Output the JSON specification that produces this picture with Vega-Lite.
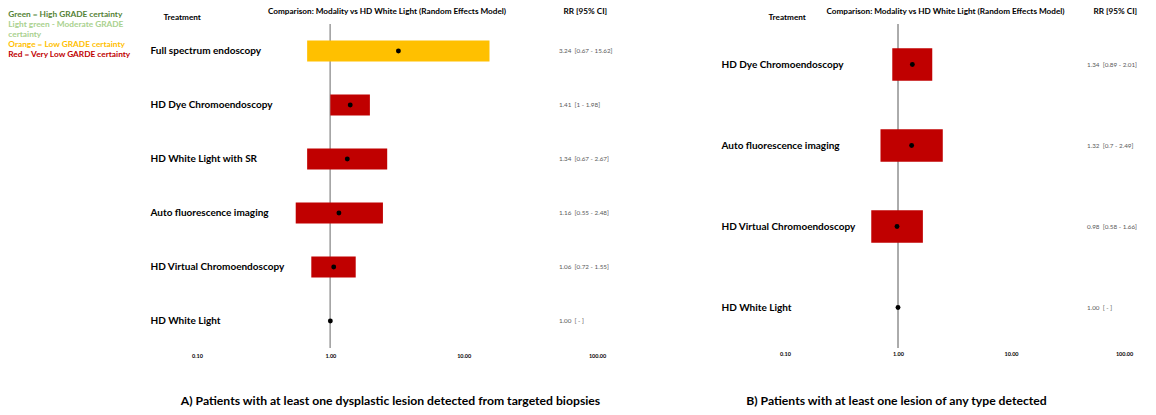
{
  "$schema": "https://vega.github.io/schema/vega-lite/v6.json",
  "background": "white",
  "padding": {"left": 9, "top": 6, "right": 5, "bottom": 5},
  "config": {
    "font": "Lato",
    "view": {"stroke": null},
    "axis": {"grid": false, "domain": false, "ticks": false, "tickSize": 0}
  },
  "bounds": "flush",
  "spacing": 188,
  "datasets": {
    "dysplastic": [
      {"treatment": "Full spectrum endoscopy", "rr": 3.24, "lo": 0.67, "hi": 15.62, "grade": "Orange = Low GRADE certainty", "label": "3.24\u00a0 [0.67 - 15.62]"},
      {"treatment": "HD Dye Chromoendoscopy", "rr": 1.41, "lo": 1.0, "hi": 1.98, "grade": "Red = Very Low GARDE certainty", "label": "1.41\u00a0 [1 - 1.98]"},
      {"treatment": "HD White Light with SR", "rr": 1.34, "lo": 0.67, "hi": 2.67, "grade": "Red = Very Low GARDE certainty", "label": "1.34\u00a0 [0.67 - 2.67]"},
      {"treatment": "Auto fluorescence imaging", "rr": 1.16, "lo": 0.55, "hi": 2.48, "grade": "Red = Very Low GARDE certainty", "label": "1.16\u00a0 [0.55 - 2.48]"},
      {"treatment": "HD Virtual Chromoendoscopy", "rr": 1.06, "lo": 0.72, "hi": 1.55, "grade": "Red = Very Low GARDE certainty", "label": "1.06\u00a0 [0.72 - 1.55]"},
      {"treatment": "HD White Light", "rr": 1.0, "lo": null, "hi": null, "grade": null, "label": "1.00\u00a0 [ - ]"}
    ],
    "anyLesion": [
      {"treatment": "HD Dye Chromoendoscopy", "rr": 1.34, "lo": 0.89, "hi": 2.01, "grade": "Red = Very Low GARDE certainty", "label": "1.34\u00a0 [0.89 - 2.01]"},
      {"treatment": "Auto fluorescence imaging", "rr": 1.32, "lo": 0.7, "hi": 2.49, "grade": "Red = Very Low GARDE certainty", "label": "1.32\u00a0 [0.7 - 2.49]"},
      {"treatment": "HD Virtual Chromoendoscopy", "rr": 0.98, "lo": 0.58, "hi": 1.66, "grade": "Red = Very Low GARDE certainty", "label": "0.98\u00a0 [0.58 - 1.66]"},
      {"treatment": "HD White Light", "rr": 1.0, "lo": null, "hi": null, "grade": null, "label": "1.00\u00a0 [ - ]"}
    ]
  },
  "hconcat": [
    {
      "width": 400,
      "height": 324,
      "data": {"name": "dysplastic"},
      "layer": [
        {
          "mark": {"type": "rule", "color": "#a6a6a6", "strokeWidth": 1},
          "encoding": {
            "x": {"datum": 1, "type": "quantitative", "scale": {"type": "log", "domain": [0.1, 100], "nice": false}, "axis": null}
          }
        },
        {
          "transform": [{"filter": "datum.lo != null"}],
          "mark": {"type": "bar"},
          "encoding": {
            "x": {
              "field": "lo", "type": "quantitative",
              "scale": {"type": "log", "domain": [0.1, 100], "nice": false},
              "axis": {
                "orient": "bottom", "values": [0.1, 1, 10, 100], "format": ".2f",
                "labelFontSize": 5.5, "labelFontWeight": "bold", "labelColor": "black",
                "labelPadding": 5, "labelFlush": false, "labelOverlap": false,
                "title": "A) Patients with at least one dysplastic lesion detected from targeted biopsies",
                "titleX": 193, "titleY": 52, "titleAlign": "center", "titleBaseline": "middle",
                "titleFontSize": 12.2, "titleFontWeight": "bold", "titleColor": "black"
              }
            },
            "x2": {"field": "hi"},
            "y": {
              "field": "treatment", "type": "nominal", "sort": null,
              "scale": {"paddingInner": 0.61, "paddingOuter": 0.305},
              "axis": {
                "orient": "left", "labelAlign": "left", "labelPadding": 47,
                "labelFontSize": 10, "labelFontWeight": "bold", "labelColor": "black", "labelLimit": 0,
                "title": "Treatment", "titleAngle": 0, "titleX": -34, "titleY": -7,
                "titleAlign": "left", "titleBaseline": "middle",
                "titleFontSize": 8.2, "titleFontWeight": "bold", "titleColor": "black"
              }
            },
            "color": {
              "field": "grade", "type": "nominal",
              "scale": {
                "domain": ["Green = High GRADE certainty", "Light green - Moderate GRADE certainty", "Orange = Low GRADE certainty", "Red = Very Low GARDE certainty"],
                "range": ["#548235", "#a9d18e", "#ffc000", "#c00000"]
              },
              "legend": {
                "orient": "none", "legendX": -188, "legendY": -13,
                "title": null, "padding": 0, "rowPadding": 1,
                "symbolSize": 0.01, "symbolOpacity": 0, "symbolStrokeWidth": 0, "labelOffset": -9,
                "labelFontSize": 8.3, "labelFontWeight": "bold", "labelLimit": 0,
                "labelExpr": "datum.label == 'Light green - Moderate GRADE certainty' ? ['Light green - Moderate GRADE', 'certainty'] : datum.label",
                "encode": {"labels": {"update": {"fill": {"scale": "color", "field": "value"}, "lineHeight": {"value": 10}}}}
              }
            }
          }
        },
        {
          "mark": {"type": "point", "filled": true, "color": "black", "opacity": 1, "size": 24},
          "encoding": {
            "x": {
              "field": "rr", "type": "quantitative",
              "scale": {"type": "log", "domain": [0.1, 100], "nice": false},
              "axis": {
                "orient": "top", "labels": false,
                "title": "Comparison: Modality vs HD White Light (Random Effects Model)",
                "titleX": 189.5, "titleY": -13, "titleAlign": "center", "titleBaseline": "middle",
                "titleFontSize": 8.2, "titleFontWeight": "bold", "titleColor": "black"
              }
            },
            "y": {"field": "treatment", "type": "nominal", "sort": null, "axis": null}
          }
        },
        {
          "mark": {"type": "text", "align": "left", "baseline": "middle", "fontSize": 6.3, "color": "#595959"},
          "encoding": {
            "x": {"datum": 51.8, "type": "quantitative", "scale": {"type": "log", "domain": [0.1, 100], "nice": false}, "axis": null},
            "y": {
              "field": "treatment", "type": "nominal", "sort": null,
              "axis": {
                "orient": "right", "labels": false,
                "title": "RR [95% CI]", "titleAngle": 0, "titleX": -34, "titleY": -13,
                "titleAlign": "left", "titleBaseline": "middle",
                "titleFontSize": 8.2, "titleFontWeight": "bold", "titleColor": "black"
              }
            },
            "text": {"field": "label"}
          }
        }
      ]
    },
    {
      "width": 339,
      "height": 324,
      "data": {"name": "anyLesion"},
      "layer": [
        {
          "mark": {"type": "rule", "color": "#a6a6a6", "strokeWidth": 1},
          "encoding": {
            "x": {"datum": 1, "type": "quantitative", "scale": {"type": "log", "domain": [0.1, 100], "nice": false}, "axis": null}
          }
        },
        {
          "transform": [{"filter": "datum.lo != null"}],
          "mark": {"type": "bar"},
          "encoding": {
            "x": {
              "field": "lo", "type": "quantitative",
              "scale": {"type": "log", "domain": [0.1, 100], "nice": false},
              "axis": {
                "orient": "bottom", "values": [0.1, 1, 10, 100], "format": ".2f",
                "labelFontSize": 5.5, "labelFontWeight": "bold", "labelColor": "black",
                "labelPadding": 3, "labelFlush": false, "labelOverlap": false,
                "title": "B) Patients with at least one lesion of any type detected",
                "titleX": 111, "titleY": 52, "titleAlign": "center", "titleBaseline": "middle",
                "titleFontSize": 12.2, "titleFontWeight": "bold", "titleColor": "black"
              }
            },
            "x2": {"field": "hi"},
            "y": {
              "field": "treatment", "type": "nominal", "sort": null,
              "scale": {"paddingInner": 0.6, "paddingOuter": 0.3},
              "axis": {
                "orient": "left", "labelAlign": "left", "labelPadding": 64,
                "labelFontSize": 10, "labelFontWeight": "bold", "labelColor": "black", "labelLimit": 0,
                "title": "Treatment", "titleAngle": 0, "titleX": -17, "titleY": -7,
                "titleAlign": "left", "titleBaseline": "middle",
                "titleFontSize": 8.2, "titleFontWeight": "bold", "titleColor": "black"
              }
            },
            "color": {
              "field": "grade", "type": "nominal",
              "scale": {
                "domain": ["Green = High GRADE certainty", "Light green - Moderate GRADE certainty", "Orange = Low GRADE certainty", "Red = Very Low GARDE certainty"],
                "range": ["#548235", "#a9d18e", "#ffc000", "#c00000"]
              }
            }
          }
        },
        {
          "mark": {"type": "point", "filled": true, "color": "black", "opacity": 1, "size": 24},
          "encoding": {
            "x": {
              "field": "rr", "type": "quantitative",
              "scale": {"type": "log", "domain": [0.1, 100], "nice": false},
              "axis": {
                "orient": "top", "labels": false,
                "title": "Comparison: Modality vs HD White Light (Random Effects Model)",
                "titleX": 160, "titleY": -13, "titleAlign": "center", "titleBaseline": "middle",
                "titleFontSize": 8.2, "titleFontWeight": "bold", "titleColor": "black"
              }
            },
            "y": {"field": "treatment", "type": "nominal", "sort": null, "axis": null}
          }
        },
        {
          "mark": {"type": "text", "align": "left", "baseline": "middle", "fontSize": 6.3, "color": "#595959"},
          "encoding": {
            "x": {"datum": 47.1, "type": "quantitative", "scale": {"type": "log", "domain": [0.1, 100], "nice": false}, "axis": null},
            "y": {
              "field": "treatment", "type": "nominal", "sort": null,
              "axis": {
                "orient": "right", "labels": false,
                "title": "RR [95% CI]", "titleAngle": 0, "titleX": -31, "titleY": -13,
                "titleAlign": "left", "titleBaseline": "middle",
                "titleFontSize": 8.2, "titleFontWeight": "bold", "titleColor": "black"
              }
            },
            "text": {"field": "label"}
          }
        }
      ]
    }
  ]
}
